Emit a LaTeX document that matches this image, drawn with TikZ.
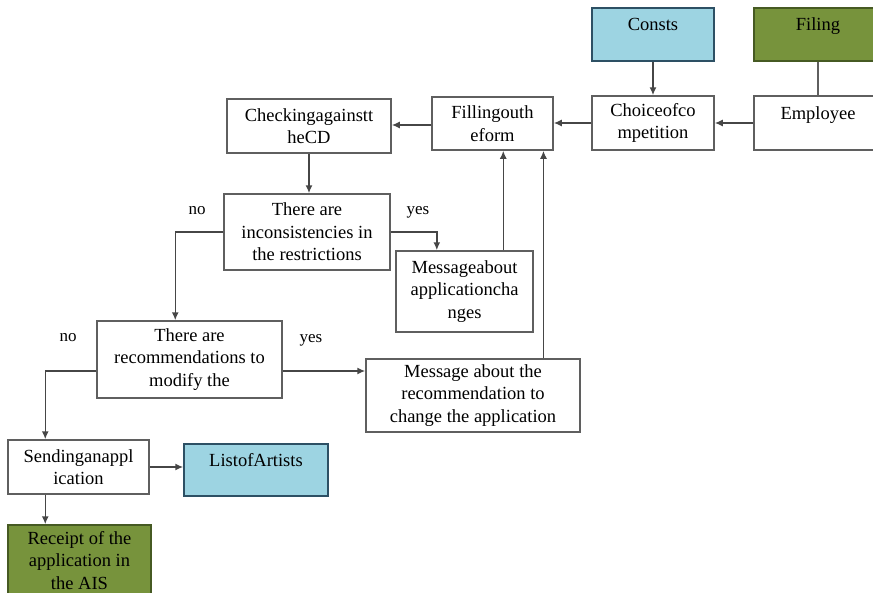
\documentclass[tikz,border=0pt]{standalone}
\usepackage{fontspec}
\setmainfont{Liberation Serif}
\usetikzlibrary{arrows.meta,calc}
\definecolor{boxline}{RGB}{95,95,95}
\definecolor{conline}{RGB}{70,70,70}
\definecolor{lblue}{RGB}{157,212,226}
\definecolor{lblueline}{RGB}{45,80,100}
\definecolor{olive}{RGB}{119,147,60}
\definecolor{oliveline}{RGB}{70,90,35}
\begin{document}
\begin{tikzpicture}[x=1pt,y=-1pt,
  every node/.style={font=\fontsize{18.5}{22.5}\selectfont, inner sep=0pt},
  box/.style={draw=boxline, line width=1.5pt, fill=white, align=center},
  bluebox/.style={box, draw=lblueline, fill=lblue},
  olivebox/.style={box, draw=oliveline, fill=olive},
  toptext/.style={text height=13pt, text depth=21pt},
  arr/.style={draw=conline, line width=1.5pt, -{Latex[length=8pt,width=7pt]}},
  con/.style={draw=boxline, line width=1.5pt},
  lbl/.style={font=\fontsize{17}{20}\selectfont}]
\useasboundingbox (0,0) rectangle (873,592);
\fill[white] (0,0) rectangle (873,592);
% boxes
\node[bluebox, toptext, minimum width=122pt, minimum height=53pt] (consts) at (653,34.5) {Consts};
\node[olivebox, toptext, minimum width=128pt, minimum height=53pt] (filing) at (818,34.5) {Filing};
\node[box, minimum width=122pt, minimum height=54pt] (choice) at (653,123) {Choiceofco\\mpetition};
\node[box, toptext, minimum width=128pt, minimum height=54pt] (employee) at (818,123) {Employee};
\node[box, minimum width=121pt, minimum height=53pt] (filling) at (492.5,123.5) {Fillingouth\\eform};
\node[box, minimum width=164pt, minimum height=54pt] (checking) at (309,126) {Checkingagainstt\\heCD};
\node[box, minimum width=166pt, minimum height=76pt] (incons) at (307,232) {There are\\inconsistencies in\\the restrictions};
\node[box, minimum width=137pt, minimum height=81pt] (msgch) at (464.5,291.5) {Messageabout\\applicationcha\\nges};
\node[box, minimum width=185pt, minimum height=77pt] (recomm) at (189.5,359.5) {There are\\recommendations to\\modify the};
\node[box, minimum width=214pt, minimum height=73pt] (msgrec) at (473,395.5) {Message about the\\recommendation to\\change the application};
\node[box, minimum width=141pt, minimum height=54pt] (sending) at (78.5,467) {Sendinganappl\\ication};
\node[bluebox, toptext, minimum width=144pt, minimum height=52pt] (list) at (256,470) {ListofArtists};
\node[olivebox, minimum width=143pt, minimum height=71pt] (receipt) at (79.5,560.5) {Receipt of the\\application in\\the AIS};
% connectors
\draw[arr] (consts.south) -- (choice.north);
\draw[con] (filing.south) -- (employee.north);
\draw[arr] (employee.west) -- (choice.east);
\draw[arr] (choice.west) -- (choice.west -| filling.east);
\draw[arr] ([yshift=-1.5pt]filling.west) coordinate (f1) -- (f1 -| checking.east);
\draw[arr] (checking.south) -- (checking.south |- incons.north);
\coordinate (mchin) at ($(msgch.north west)!0.3!(msgch.north east)$);
\draw[arr] (incons.east) -| (mchin);
\coordinate (rin) at ($(recomm.north west)+(79,0)$);
\draw[arr] (incons.west) -| (rin);
\coordinate (mchout) at ($(msgch.north west)!0.78!(msgch.north east)$);
\draw[arr] (mchout) -- (mchout |- filling.south);
\coordinate (mrout) at ($(msgrec.north west)!0.827!(msgrec.north east)$);
\draw[arr] (mrout) -- (mrout |- filling.south);
\draw[arr] ([yshift=-11.5pt]recomm.east) coordinate (r1) -- (r1 -| msgrec.west);
\coordinate (sin) at ($(sending.north west)+(38,0)$);
\draw[arr] ([yshift=-11.5pt]recomm.west) -| (sin);
\draw[arr] (sending.east) -- (sending.east -| list.west);
\coordinate (sout) at ($(sending.south west)+(38,0)$);
\draw[arr] (sout) -- (sout |- receipt.north);
% labels
\node[lbl] (no1) at (197,211) {no};
\node[lbl] (yes1) at (418,212) {yes};
\node[lbl] (no2) at (68,338) {no};
\node[lbl] (yes2) at (311,340) {yes};
\end{tikzpicture}
\end{document}
